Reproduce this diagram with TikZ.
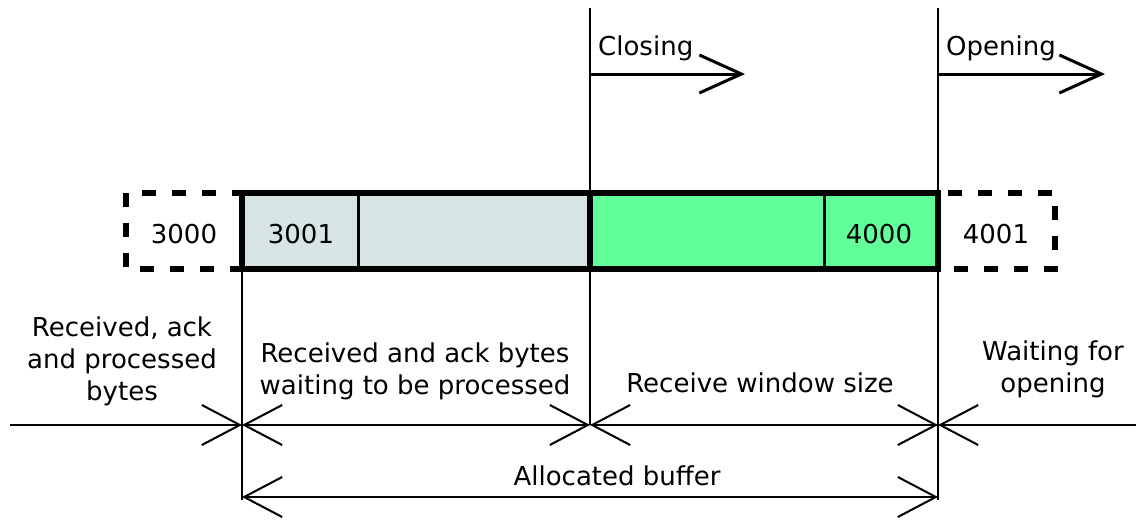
\documentclass[tikz,border=0pt]{standalone}
\usepackage{fontspec}
\setmainfont{DejaVu Sans}
\usetikzlibrary{arrows.meta}
\definecolor{usedfill}{HTML}{D7E4E3}
\definecolor{windowfill}{HTML}{60FF9A}
\tikzset{
  lbl/.style={inner sep=0pt, align=center, font=\fontsize{26}{32}\selectfont},
  num/.style={inner sep=0pt, font=\fontsize{26}{32}\selectfont},
  thin/.style={line width=2pt},
  dimhead/.style={-{Straight Barb[length=38pt,width=40pt,line width=2pt]}},
  dimboth/.style={{Straight Barb[length=38pt,width=40pt,line width=2pt]}-{Straight Barb[length=38pt,width=40pt,line width=2pt]}},
  movehead/.style={line width=3pt,-{Straight Barb[length=42pt,width=38pt,line width=3pt]}},
  ghost/.style={line width=6pt, dash pattern=on 14pt off 16pt},
  border/.style={line width=6pt},
  divider/.style={line width=3pt},
}
\begin{document}
\begin{tikzpicture}[x=1pt,y=-1pt]
\useasboundingbox (0,0) rectangle (1136,522);

% key points
\coordinate (bL) at (242,193);
\coordinate (bM) at (590,193);
\coordinate (bR) at (938,193);
\coordinate (bLb) at (242,269);
\coordinate (bMb) at (590,269);
\coordinate (bRb) at (938,269);

% buffer cells
\fill[usedfill] (bL) rectangle (bMb);
\fill[windowfill] (bM) rectangle (bRb);
\draw[divider] (358,193) -- (358,269);
\draw[divider] (824,193) -- (824,269);
\draw[border] (bL) rectangle (bRb);
\draw[border] (bM) -- (bMb);

% neighbouring bytes outside the buffer
\draw[ghost, dash phase=4pt] (bL) -- (126,193) -- (126,269) -- (bLb);
\draw[ghost, dash phase=20pt] (bR) -- (1055,193) -- (1055,269) -- (bRb);

\node[num] (n3000) at (184,234) {3000};
\node[num] (n3001) at (301,234) {3001};
\node[num] (n4000) at (879,234) {4000};
\node[num] (n4001) at (996,234) {4001};

% edges of the regions
\coordinate (tM) at (590,8);
\coordinate (tR) at (938,8);
\coordinate (dL) at (242,425);
\coordinate (dM) at (590,425);
\coordinate (dR) at (938,425);
\coordinate (aL) at (242,497);
\coordinate (aR) at (938,497);
\coordinate (dStart) at (10,425);
\coordinate (dEnd) at (1136,425);

\draw[thin] (bLb) -- (242,500);
\draw[thin] (tM) -- (dM);
\draw[thin] (tR) -- (938,500);

% window edge movement
\coordinate (cS) at (590,74);
\coordinate (cE) at (745,74);
\coordinate (oS) at (938,74);
\coordinate (oE) at (1105,74);
\draw[movehead] (cS) -- (cE);
\draw[movehead] (oS) -- (oE);
\node[lbl, anchor=base west] (closing) at (598,55) {Closing};
\node[lbl, anchor=base west] (opening) at (946,55) {Opening};

% dimension lines
\draw[thin, dimhead] (dStart) -- (dL);
\draw[thin, dimboth] (dL) -- (dM);
\draw[thin, dimboth] (dM) -- (dR);
\draw[thin, dimhead] (dEnd) -- (dR);
\draw[thin, dimboth] (aL) -- (aR);

% region labels (base anchor sits on the last line)
\node[lbl, anchor=base] (processed) at (122,400) {Received, ack\\and processed\\bytes};
\node[lbl, anchor=base] (waiting) at (415,394) {Received and ack bytes\\waiting to be processed};
\node[lbl, anchor=base] (window) at (760,392) {Receive window size};
\node[lbl, anchor=base] (future) at (1053,392) {Waiting for\\opening};
\node[lbl, anchor=base] (alloc) at (617,485) {Allocated buffer};
\end{tikzpicture}
\end{document}
